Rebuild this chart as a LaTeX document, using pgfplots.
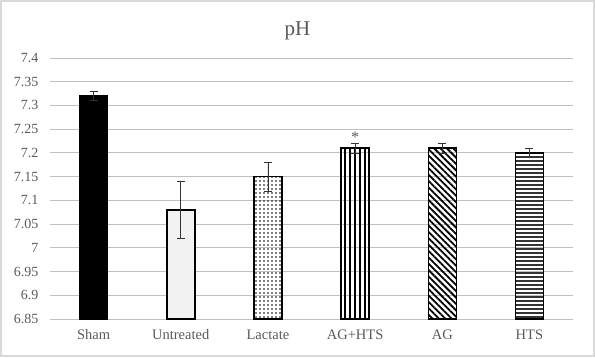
\documentclass[border=0pt]{standalone}
\usepackage{pgfplots}
\pgfplotsset{compat=1.18}
\usepackage{fontspec}
\setmainfont{Liberation Serif}
\usetikzlibrary{patterns,patterns.meta}
\definecolor{txt}{HTML}{595959}
\definecolor{grid}{HTML}{D9D9D9}
\begin{document}
\begin{tikzpicture}[x=1bp,y=1bp]
\useasboundingbox (0,0) rectangle (595,357);
\draw[grid, line width=1.5bp] (1,1) rectangle (594,356);
\node[text=txt, font=\fontsize{21bp}{24bp}\selectfont] at (297.5,326) {pH};
\begin{axis}[
  at={(50bp,38bp)}, anchor=south west,
  scale only axis, width=523bp, height=261bp,
  xmin=-0.5, xmax=5.5, ymin=6.85, ymax=7.4,
  xtick={0,1,2,3,4,5},
  xticklabels={Sham,Untreated,Lactate,AG+HTS,AG,HTS},
  ytick={6.85,6.9,6.95,7,7.05,7.1,7.15,7.2,7.25,7.3,7.35,7.4},
  yticklabel style={/pgf/number format/fixed, /pgf/number format/precision=2, text=txt, font=\fontsize{14bp}{16bp}\selectfont, xshift=-8bp},
  /pgf/number format/assume math mode=true,
  major tick length=0pt,
  xmajorgrids=false, ymajorgrids=true,
  grid style={grid, line width=1bp},
  axis line style={draw=none},
  xticklabel style={text=txt, font=\fontsize{14.5bp}{16bp}\selectfont, yshift=-7bp},
  every axis plot/.append style={bar width=28bp, bar shift=0pt},
  error bars/y dir=both, error bars/y explicit,
  error bars/error bar style={black!80, line width=0.7bp},
  error bars/error mark options={rotate=90, mark size=4bp, black!80, line width=0.7bp},
]
\addplot[ybar, fill=black, draw=black, line width=1.5bp] coordinates {(0,7.32) +- (0,0.01)};
\addplot[ybar, fill=black!5, draw=black, line width=1.5bp] coordinates {(1,7.08) +- (0,0.06)};
\addplot[ybar, draw=black, line width=1.5bp, pattern={Dots[distance=4bp, radius=0.8bp]}, pattern color=black] coordinates {(2,7.15) +- (0,0.03)};
\addplot[ybar, draw=black, line width=1.5bp, pattern={Lines[angle=90, distance=5bp, line width=2bp]}, pattern color=black] coordinates {(3,7.21) +- (0,0.01)};
\addplot[ybar, draw=black, line width=1.5bp, pattern={Lines[angle=-45, distance=4.5bp, line width=1.8bp]}, pattern color=black] coordinates {(4,7.21) +- (0,0.01)};
\addplot[ybar, draw=black, line width=1.5bp, pattern={Lines[angle=0, distance=4bp, line width=1.8bp]}, pattern color=black!80] coordinates {(5,7.20) +- (0,0.01)};
\addplot[draw=none, mark=none, error bars/y dir=none, nodes near coords={*}, nodes near coords style={text=txt, font=\fontsize{16bp}{16bp}\selectfont, anchor=center}] coordinates {(3,7.232)};
\end{axis}
\end{tikzpicture}
\end{document}
